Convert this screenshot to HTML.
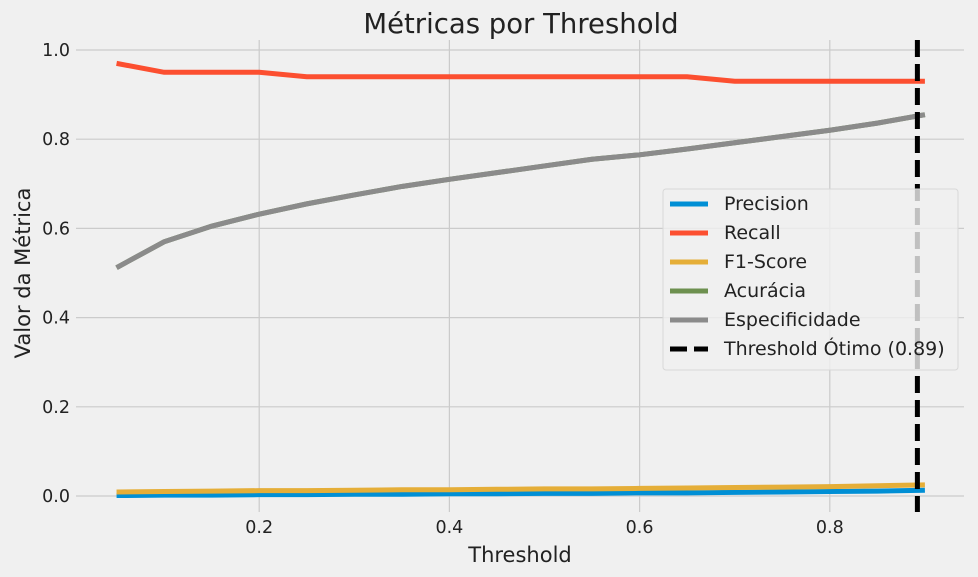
<!DOCTYPE html>
<html><head><meta charset="utf-8"><style>
body{margin:0;background:#f0f0f0;}
svg{display:block;font-family:"DejaVu Sans","Liberation Sans",sans-serif;}
</style></head><body>
<svg id="chart" width="978" height="577">
<rect width="978" height="577" fill="#f0f0f0"/>
<g id="grid"></g><g id="ticks"></g><g id="series"></g>
<text x="521" y="33" text-anchor="middle" font-size="27.5" fill="#222">Métricas por Threshold</text>
<text x="520" y="562" text-anchor="middle" font-size="21" fill="#222">Threshold</text>
<text transform="translate(30,273) rotate(-90)" text-anchor="middle" font-size="21" fill="#222">Valor da Métrica</text>
<g id="legend"></g>
</svg>
<script>
const thresholds=[0.05,0.1,0.15,0.2,0.25,0.3,0.35,0.4,0.45,0.5,0.55,0.6,0.65,0.7,0.75,0.8,0.85,0.9];
const precision=[0.001,0.002,0.002,0.003,0.003,0.004,0.004,0.005,0.005,0.006,0.006,0.007,0.007,0.008,0.009,0.01,0.011,0.013];
const recall=[0.97,0.95,0.95,0.95,0.94,0.94,0.94,0.94,0.94,0.94,0.94,0.94,0.94,0.93,0.93,0.93,0.93,0.93];
const f1=[0.009,0.01,0.011,0.012,0.012,0.013,0.014,0.014,0.015,0.016,0.016,0.017,0.018,0.019,0.02,0.021,0.023,0.025];
const accuracy=[0.512,0.57,0.605,0.632,0.655,0.675,0.694,0.71,0.725,0.74,0.755,0.765,0.778,0.792,0.806,0.82,0.836,0.855];
const specificity=[0.512,0.57,0.605,0.632,0.655,0.675,0.694,0.71,0.725,0.74,0.755,0.765,0.778,0.792,0.806,0.82,0.836,0.855];
const optimal=0.89;
const xTicks=[0.2,0.4,0.6,0.8];
const yTicks=[0.0,0.2,0.4,0.6,0.8,1.0];
const NS="http://www.w3.org/2000/svg";
const xs=v=>69+v*951, ys=v=>496-v*446;
function mk(t,a,p){const e=document.createElementNS(NS,t);for(const k in a)e.setAttribute(k,a[k]);p.appendChild(e);return e;}
const grid=document.getElementById('grid'),ticks=document.getElementById('ticks'),ser=document.getElementById('series'),leg=document.getElementById('legend');
xTicks.forEach(v=>{
 const l=mk('line',{x1:xs(v),x2:xs(v),y1:40,y2:512,stroke:'#cbcbcb','stroke-width':1.2},grid);
 
 
 const t=mk('text',{x:xs(v),y:533,'text-anchor':'middle','font-size':17.5,fill:'#222'},ticks);t.textContent=v.toFixed(1);
 
 
});
yTicks.forEach(v=>{
 const l=mk('line',{x1:76,x2:964,y1:ys(v),y2:ys(v),stroke:'#cbcbcb','stroke-width':1.2},grid);
 
 
 const t=mk('text',{x:70,y:ys(v)+6,'text-anchor':'end','font-size':17.5,fill:'#222'},ticks);t.textContent=v.toFixed(1);
 
 
});
const series=[['Precision',precision,'#008fd5'],['Recall',recall,'#fc4f30'],['F1-Score',f1,'#e5ae38'],['Acurácia',accuracy,'#6d904f'],['Especificidade',specificity,'#8b8b8b']];
series.forEach(([n,d,c])=>{
 const p=mk('polyline',{points:thresholds.map((x,i)=>xs(x)+','+ys(d[i])).join(' '),fill:'none',stroke:c,'stroke-width':5},ser);
 
 
});
const ol=mk('line',{x1:xs(optimal)+2,x2:xs(optimal)+2,y1:40,y2:512,stroke:'#000','stroke-width':5,'stroke-dasharray':'17,7'},ser);


const box=mk('rect',{x:663,y:189,width:295,height:181,rx:3,fill:'#f0f0f0','fill-opacity':0.8,stroke:'#d8d8d8'},leg);


const entries=series.map(s=>[s[0],s[2],false]).concat([['Threshold Ótimo (0.89)','#000',true]]);
entries.forEach(([n,c,dash],i)=>{
 const y=204+i*29;
 const l=mk('line',{x1:670,x2:708,y1:y,y2:y,stroke:c,'stroke-width':5},leg);
 if(dash)l.setAttribute('stroke-dasharray','17,7');
 
 
 const t=mk('text',{x:724,y:y+6,'font-size':19,fill:'#222'},leg);t.textContent=n;
 
 
});
</script>
</body></html>
